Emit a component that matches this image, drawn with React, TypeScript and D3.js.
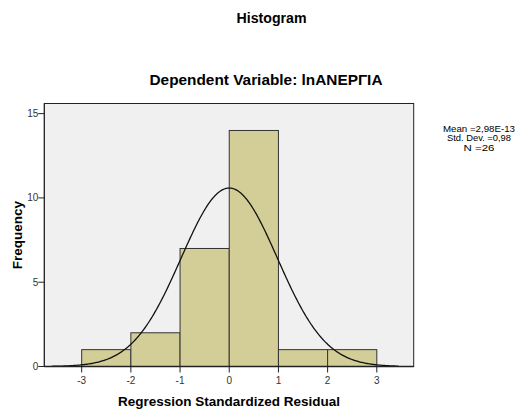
import React from "react";
import * as d3 from "d3";

const binStarts = [-3, -2, -1, 0, 1, 2];
const binWidth = 1;
const counts = [1, 2, 7, 14, 1, 1];
const xTicks = [-3, -2, -1, 0, 1, 2, 3];
const yTicks = [0, 5, 10, 15];
const mean = 2.98e-13;
const sd = 0.98;
const n = 26;
const legendLines = ["Mean =2,98E-13", "Std. Dev. =0,98", "N =26"];
const legendWidths = [72, 64, 31];

const W = 518;
const H = 411;
const font = "'Liberation Sans', Arial, sans-serif";

export default function App() {
  const x = d3.scaleLinear().domain([-3.76, 3.75]).range([44.3, 413.7]);
  const y = d3.scaleLinear().domain([0, 15.6]).range([366.5, 103.5]);
  const [x0, x1] = x.range();
  const [yb, yt] = y.range();

  const curveX = d3.range(-3.62, 3.46, 0.02);
  const pdf = (v: number) =>
    (n * binWidth * Math.exp(-0.5 * ((v - mean) / sd) ** 2)) / (sd * Math.sqrt(2 * Math.PI));
  const line = d3
    .line<number>()
    .x((d) => x(d))
    .y((d) => y(pdf(d)));

  return (
    <svg
      width={W}
      height={H}
      style={{ position: "absolute", left: 0, top: 0, background: "#fff" }}
      fontFamily={font}
    >
      <text x={271.5} y={23} textAnchor="middle" fontSize={14} fontWeight="bold" fill="#000"
        textLength={70} lengthAdjust="spacingAndGlyphs">
        Histogram
      </text>
      <text x={266} y={85} textAnchor="middle" fontSize={14} fontWeight="bold" fill="#000"
        textLength={233} lengthAdjust="spacingAndGlyphs">
        Dependent Variable: lnΑΝΕΡΓΙΑ
      </text>

      <rect x={x0} y={yt} width={x1 - x0} height={yb - yt} fill="#F0F0F0" stroke="#222" strokeWidth={1} />

      {counts.map((c, i) => (
        <rect
          key={i}
          x={x(binStarts[i])}
          y={y(c)}
          width={x(binStarts[i] + binWidth) - x(binStarts[i])}
          height={y(0) - y(c)}
          fill="#D3CE97"
          stroke="#333"
          strokeWidth={1}
        />
      ))}
      <path d={line(curveX) || ""} fill="none" stroke="#111" strokeWidth={1.3} />
      <line x1={x0} x2={x1} y1={yb} y2={yb} stroke="#222" strokeWidth={1.5} />
      <line x1={x0} x2={x0} y1={yt} y2={yb} stroke="#222" strokeWidth={1} />

      {yTicks.map((t) => (
        <g key={t}>
          <line x1={x0 - 6} x2={x0} y1={y(t)} y2={y(t)} stroke="#222" />
          <text x={x0 - 6} y={y(t) + 3.5} textAnchor="end" fontSize={10} fill="#333">
            {t}
          </text>
        </g>
      ))}
      {xTicks.map((t) => (
        <g key={t}>
          <line x1={x(t)} x2={x(t)} y1={yb} y2={yb + 6} stroke="#222" />
          <text x={x(t)} y={yb + 17} textAnchor="middle" fontSize={10} fill="#333">
            {t}
          </text>
        </g>
      ))}

      <text
        transform={`translate(22,${(yt + yb) / 2}) rotate(-90)`}
        textAnchor="middle"
        fontSize={13.5}
        fontWeight="bold"
        fill="#000"
      >
        Frequency
      </text>
      <text x={229} y={406} textAnchor="middle" fontSize={13.5} fontWeight="bold" fill="#000"
        textLength={222} lengthAdjust="spacingAndGlyphs">
        Regression Standardized Residual
      </text>

      {legendLines.map((l, i) => (
        <text key={i} x={479} y={131.5 + i * 9.6} textAnchor="middle" fontSize={8.3} fill="#000"
          textLength={legendWidths[i]} lengthAdjust="spacingAndGlyphs">
          {l}
        </text>
      ))}
    </svg>
  );
}
